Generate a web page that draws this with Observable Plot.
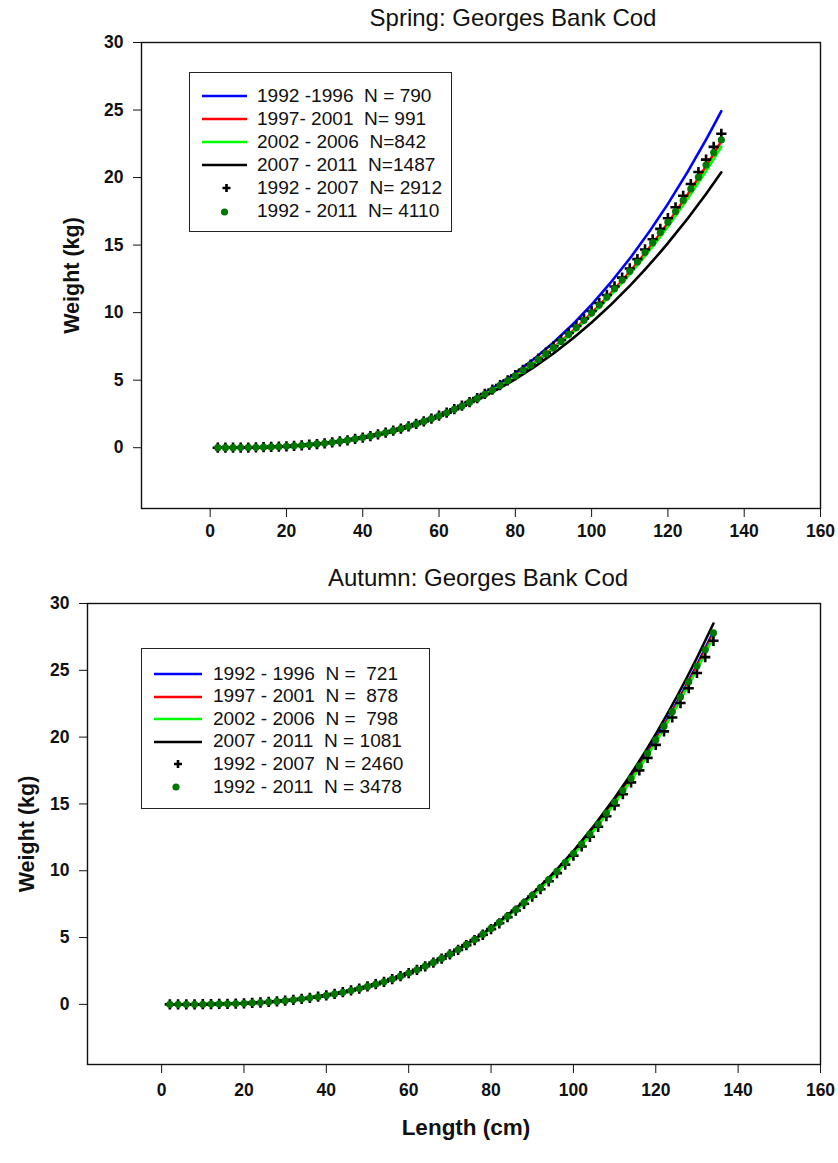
<!DOCTYPE html>
<html>
<head>
<meta charset="utf-8">
<script src="https://cdn.jsdelivr.net/npm/d3@7"></script>
<script src="https://cdn.jsdelivr.net/npm/@observablehq/plot@0.6"></script>
<style>
  body { margin: 0; background: white; }
  #wrap { position: relative; width: 838px; height: 1163px; background: white; overflow: hidden; }
  .panel { position: absolute; left: 0; }
  .legend { position: absolute; border: 1.3px solid #222; box-sizing: border-box; background: white;
            font-family: "Liberation Sans", Arial, sans-serif; font-size: 17.5px; color: #111; }
  .legend .row { position: absolute; left: 0; height: 20px; display: flex; align-items: center; white-space: pre; }
  .legend .row span { display: inline-block; transform: scaleX(1.09); transform-origin: left center; }
  .legend svg { display: block; }
</style>
</head>
<body>
<div id="wrap">
  <div id="top" class="panel" style="top:0px"></div>
  <div id="bot" class="panel" style="top:550px"></div>
</div>
<script>
// ---------- data ----------
const xTicks = [0, 20, 40, 60, 80, 100, 120, 140, 160];
const yTicks = [0, 5, 10, 15, 20, 25, 30];

// lengths (cm) for the smooth fitted lines
const lineLengths = [2, 10, 20, 30, 40, 50, 60, 70, 80, 90, 100, 110, 120, 130, 134];
// lengths (cm) for the pooled-fit markers
const markerLengths = [2,4,6,8,10,12,14,16,18,20,22,24,26,28,30,32,34,36,38,40,42,44,46,48,50,52,54,56,58,60,62,64,66,68,70,72,74,76,78,80,82,84,86,88,90,92,94,96,98,100,102,104,106,108,110,112,114,116,118,120,122,124,126,128,130,132,134];

// Spring weights (kg)
const springBlue  = [0.0001, 0.0127, 0.096, 0.315, 0.730, 1.401, 2.385, 3.742, 5.525, 7.793, 10.602, 14.004, 18.054, 22.806, 24.918];
const springRed   = [0.0002, 0.0152, 0.107, 0.336, 0.755, 1.415, 2.363, 3.648, 5.312, 7.400, 9.957, 13.021, 16.635, 20.835, 22.692];
const springGreen = [0.0002, 0.0158, 0.110, 0.340, 0.760, 1.417, 2.359, 3.631, 5.272, 7.327, 9.838, 12.841, 16.377, 20.481, 22.290];
const springBlack = [0.0002, 0.0187, 0.121, 0.361, 0.784, 1.431, 2.339, 3.544, 5.078, 6.976, 9.267, 11.982, 15.147, 18.790, 20.392];
const springPlus  = [0.00,0.00,0.00,0.01,0.01,0.02,0.04,0.06,0.08,0.10,0.14,0.18,0.22,0.27,0.33,0.40,0.47,0.55,0.65,0.75,0.86,0.98,1.11,1.26,1.41,1.58,1.76,1.95,2.15,2.37,2.60,2.85,3.11,3.38,3.67,3.98,4.30,4.64,4.99,5.37,5.76,6.16,6.59,7.04,7.50,7.98,8.49,9.01,9.56,10.12,10.71,11.31,11.94,12.59,13.27,13.96,14.68,15.43,16.20,16.99,17.80,18.65,19.52,20.41,21.33,22.27,23.24];
const springDots  = [0.00,0.00,0.00,0.01,0.02,0.03,0.04,0.06,0.08,0.11,0.14,0.18,0.22,0.28,0.33,0.40,0.48,0.56,0.65,0.75,0.86,0.99,1.12,1.26,1.41,1.58,1.76,1.95,2.15,2.36,2.59,2.84,3.09,3.37,3.65,3.96,4.27,4.61,4.96,5.32,5.71,6.11,6.53,6.96,7.42,7.89,8.39,8.90,9.43,9.99,10.56,11.15,11.77,12.41,13.07,13.75,14.45,15.18,15.93,16.70,17.49,18.32,19.16,20.03,20.93,21.85,22.79];

// Autumn weights (kg)
const autumnBlue  = [0.0001, 0.0093, 0.079, 0.276, 0.671, 1.334, 2.341, 3.767, 5.685, 8.175, 11.315, 15.180, 19.852, 25.409, 27.897];
const autumnRed   = [0.0001, 0.0095, 0.080, 0.278, 0.672, 1.335, 2.339, 3.759, 5.668, 8.142, 11.261, 15.097, 19.731, 25.234, 27.700];
const autumnGreen = [0.0001, 0.0096, 0.080, 0.279, 0.674, 1.336, 2.338, 3.752, 5.651, 8.111, 11.208, 15.013, 19.610, 25.060, 27.505];
const autumnBlack = [0.0001, 0.0090, 0.077, 0.272, 0.665, 1.331, 2.346, 3.788, 5.736, 8.272, 11.479, 15.436, 20.229, 25.937, 28.500];
const autumnPlus  = [0.00,0.00,0.00,0.00,0.01,0.02,0.03,0.04,0.06,0.08,0.11,0.14,0.18,0.23,0.28,0.34,0.41,0.49,0.58,0.68,0.79,0.91,1.04,1.18,1.34,1.51,1.69,1.89,2.11,2.33,2.58,2.85,3.13,3.42,3.74,4.08,4.43,4.81,5.21,5.63,6.07,6.53,7.02,7.53,8.06,8.62,9.21,9.82,10.46,11.13,11.82,12.54,13.29,14.08,14.89,15.73,16.61,17.51,18.45,19.42,20.43,21.47,22.55,23.66,24.80,25.99,27.21];
const autumnDots  = [0.00,0.00,0.00,0.00,0.01,0.02,0.03,0.04,0.06,0.08,0.11,0.14,0.18,0.22,0.28,0.34,0.41,0.49,0.57,0.67,0.78,0.90,1.03,1.18,1.34,1.51,1.69,1.89,2.11,2.34,2.59,2.86,3.14,3.44,3.76,4.10,4.47,4.85,5.25,5.68,6.13,6.60,7.09,7.61,8.16,8.73,9.33,9.95,10.61,11.29,12.00,12.74,13.50,14.31,15.14,16.00,16.90,17.83,18.79,19.79,20.82,21.89,23.00,24.14,25.32,26.54,27.80];

const springLabels = ["1992 -1996  N = 790", "1997- 2001  N= 991", "2002 - 2006  N=842", "2007 - 2011  N=1487", "1992 - 2007  N= 2912", "1992 - 2011  N= 4110"];
const autumnLabels = ["1992 - 1996  N =  721", "1997 - 2001  N =  878", "2002 - 2006  N =  798", "2007 - 2011  N = 1081", "1992 - 2007  N = 2460", "1992 - 2011  N = 3478"];

const seriesColors = ["#0000ff", "#ff0000", "#00ff00", "#000000"];
const dotColor = "#007800";
const FONT = "'Liberation Sans', Arial, Helvetica, sans-serif";

// ---------- drawing ----------
function toRows(lengths, values) { return lengths.map((L, i) => ({L, W: values[i]})); }

function panel(opts) {
  const lines = [opts.blue, opts.red, opts.green, opts.black];
  const marks = [
    Plot.axisX({ticks: xTicks, tickSize: 9, tickPadding: opts.xPad, fontSize: 17.5, fontWeight: "bold", label: null}),
    Plot.axisY({ticks: yTicks, tickSize: 8, tickPadding: 10, fontSize: 17.5, fontWeight: "bold", label: null}),
    ...lines.map((vals, i) => Plot.line(toRows(lineLengths, vals), {x: "L", y: "W", stroke: seriesColors[i], strokeWidth: 2.6, curve: "monotone-x"})),
    Plot.dot(toRows(markerLengths, opts.plus), {x: "L", y: "W", symbol: "plus", r: 3.4, stroke: "black", strokeWidth: 2.6}),
    Plot.dot(toRows(markerLengths, opts.dots), {x: "L", y: "W", r: 3.6, fill: dotColor}),
    Plot.frame({stroke: "#111", strokeWidth: 1.4}),
    Plot.text([opts.title], {text: d => d, frameAnchor: "top", dx: opts.titleDx, dy: opts.titleDy, lineAnchor: "middle", fontSize: 24, fontWeight: "normal", fill: "#111"}),
    Plot.text(["Weight (kg)"], {text: d => d, frameAnchor: "left", rotate: -90, dx: opts.yLabelDx, lineAnchor: "middle", textAnchor: "middle", fontSize: 21.5, fontWeight: "bold", fill: "#111"})
  ];
  if (opts.xLabel) {
    marks.push(Plot.text([opts.xLabel], {text: d => d, frameAnchor: "bottom", dx: opts.xLabelDx, dy: opts.xLabelDy, lineAnchor: "middle", fontSize: 22.5, fontWeight: "bold", fill: "#111"}));
  }
  return Plot.plot({
    width: 838,
    height: opts.height,
    marginLeft: opts.ml, marginRight: opts.mr, marginTop: opts.mt, marginBottom: opts.mb,
    style: `font-family: ${FONT}; background: white; color: #111;`,
    x: {domain: [-18, 160]},
    y: {domain: [-4.5, 30]},
    marks
  });
}

document.getElementById("top").appendChild(panel({
  blue: springBlue, red: springRed, green: springGreen, black: springBlack,
  plus: springPlus, dots: springDots,
  title: "Spring: Georges Bank Cod", titleDx: 32, titleDy: -24,
  height: 550, ml: 141, mr: 18, mt: 42, mb: 42, xPad: 7, yLabelDx: -69
}));

document.getElementById("bot").appendChild(panel({
  blue: autumnBlue, red: autumnRed, green: autumnGreen, black: autumnBlack,
  plus: autumnPlus, dots: autumnDots,
  title: "Autumn: Georges Bank Cod", titleDx: 24, titleDy: -25,
  height: 613, ml: 87, mr: 18, mt: 53, mb: 99, xPad: 10, yLabelDx: -60,
  xLabel: "Length (cm)", xLabelDx: 12, xLabelDy: 63
}));

// ---------- legends ----------
function legend(labels, box) {
  const div = document.createElement("div");
  div.className = "legend";
  Object.assign(div.style, {left: box.left + "px", top: box.top + "px", width: box.width + "px", height: box.height + "px"});
  labels.forEach((lab, i) => {
    const row = document.createElement("div");
    row.className = "row";
    row.style.top = (box.firstRow + i * box.step - 10) + "px";
    row.style.left = box.swLeft + "px";
    const svg = d3.create("svg").attr("width", box.swWidth).attr("height", 20);
    if (i < 4) {
      svg.append("line").attr("x1", 0).attr("x2", box.swWidth).attr("y1", 10).attr("y2", 10)
        .attr("stroke", seriesColors[i]).attr("stroke-width", 2.6);
    } else if (i === 4) {
      const c = box.swWidth / 2 + box.markerShift;
      svg.append("path").attr("d", `M${c - 4},10H${c + 4}M${c},6V14`).attr("stroke", "black").attr("stroke-width", 2.6).attr("fill", "none");
    } else {
      const c = box.swWidth / 2 + box.markerShift - 2;
      svg.append("circle").attr("cx", c).attr("cy", 10).attr("r", 3.6).attr("fill", dotColor);
    }
    row.appendChild(svg.node());
    const t = document.createElement("span");
    t.textContent = lab;
    t.style.marginLeft = box.gap + "px";
    row.appendChild(t);
    div.appendChild(row);
  });
  document.getElementById("wrap").appendChild(div);
}

legend(springLabels, {left: 189, top: 72, width: 263, height: 160, firstRow: 95 - 72, step: 23.1, swLeft: 12, swWidth: 45, gap: 10, markerShift: 2});
legend(autumnLabels, {left: 141, top: 648, width: 289, height: 161, firstRow: 673 - 648, step: 22.6, swLeft: 12, swWidth: 48, gap: 11, markerShift: 0});
</script>
</body>
</html>
